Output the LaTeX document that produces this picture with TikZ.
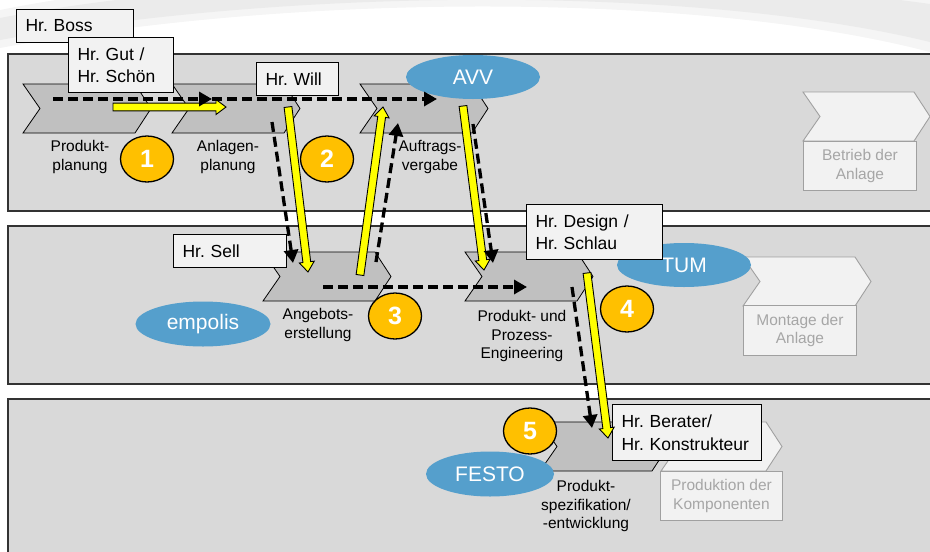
\documentclass[tikz,border=0pt]{standalone}
\usepackage{fontspec}
\setmainfont{Liberation Sans}
\usetikzlibrary{arrows.meta,calc,shapes.geometric}
\definecolor{bandfill}{HTML}{D9D9D9}
\definecolor{chevfill}{HTML}{C0C0C0}
\definecolor{boxfill}{HTML}{F2F2F2}
\definecolor{blueell}{HTML}{559FCC}
\definecolor{orangec}{HTML}{FFC000}
\definecolor{grayline}{HTML}{A0A0A0}
\definecolor{graytext}{HTML}{A6A6A6}
\definecolor{yel}{HTML}{FFFF00}
\tikzset{
 band/.style={fill=bandfill, draw=black!80, line width=1.2pt},
 chev/.style={fill=chevfill, draw=black, line width=0.8pt, line join=miter},
 gchev/.style={fill=boxfill, draw=grayline, line width=0.9pt},
 gbox/.style={rectangle, fill=boxfill, draw=grayline, line width=0.9pt, inner sep=0pt, align=center, anchor=north west, font=\fontsize{15.5}{18.5}\selectfont, text=graytext},
 tbox/.style={rectangle, fill=boxfill, draw=black, line width=1pt, inner xsep=9pt, inner ysep=0pt, align=left, anchor=north west, font=\fontsize{17.5}{22.5}\selectfont},
 lbl/.style={align=center, font=\fontsize{15.5}{18.5}\selectfont, inner sep=0pt},
 org/.style={ellipse, fill=blueell, inner sep=0pt, text=white, font=\fontsize{21}{24}\selectfont},
 num/.style={ellipse, fill=orangec, draw=black, line width=1.3pt, inner sep=0pt, minimum width=53pt, minimum height=46pt, text=white, font=\fontsize{25}{28}\selectfont\bfseries},
 flow/.style={draw=black, line width=3.3pt, dash pattern=on 10pt off 5pt, -{Triangle[length=13pt,width=14pt]}},
 yarrow/.style={fill=yel, draw=black, line width=0.9pt, line join=miter},
}
\newcommand\chevron[4]{\draw[#1] (#2,#3) -- ++(#4-16,0) -- ++(16,24.5) -- ++(-16,24.5) -- ++(-#4+16,0) -- ++(17,-24.5) -- cycle;}
\newcommand\yarr[3]{%
 \coordinate (#3) at ($(#2)!10pt!(#1)$);
 \draw[yarrow] ($(#1)!3.9pt!90:(#2)$) -- ($(#3)!3.9pt!90:(#2)$) -- ($(#3)!7.5pt!90:(#2)$) -- (#2) -- ($(#3)!7.5pt!-90:(#2)$) -- ($(#3)!3.9pt!-90:(#2)$) -- ($(#1)!3.9pt!-90:(#2)$) -- cycle;}
\frenchspacing
\begin{document}
\frenchspacing
\begin{tikzpicture}[x=1pt,y=-1pt]
\useasboundingbox (0,0) rectangle (930,552);
\clip (0,0) rectangle (930,552);
% decorative swoosh
\fill[black!4] (0,10) .. controls (250,-40) and (650,-45) .. (930,-4) -- (930,52) .. controls (700,-8) and (300,-8) .. (0,48) -- cycle;
\fill[black!8] (0,18) .. controls (250,-30) and (650,-35) .. (930,4) -- (930,42) .. controls (700,-14) and (300,-14) .. (0,40) -- cycle;
% bands
\draw[band] (8,54) rectangle (940,211);
\draw[band] (8,226) rectangle (940,384);
\draw[band] (8,399) rectangle (940,570);
% process chevrons
\chevron{chev}{23}{84}{128}
\chevron{chev}{172}{84}{128}
\chevron{chev}{360}{84}{128}
\chevron{chev}{263}{252}{128}
\chevron{chev}{465}{252}{128}
\chevron{chev}{540}{422}{128}
% grey (future) chevrons
\chevron{gchev}{803}{92}{127}
\chevron{gchev}{743}{257}{128}
\chevron{gchev}{661}{422}{121}
\node[gbox, minimum width=113pt, minimum height=49pt] (betrieb) at (803,141) {Betrieb der\\Anlage};
\node[gbox, minimum width=113pt, minimum height=50pt] (montage) at (743,305) {Montage der\\Anlage};
\node[gbox, minimum width=122pt, minimum height=49pt] (produktion) at (660,471) {Produktion der\\Komponenten};
% labels
\node[lbl] (l1) at (80,157) {Produkt-\\planung};
\node[lbl] (l2) at (228,157) {Anlagen-\\planung};
\node[lbl] (l3) at (430,157) {Auftrags-\\vergabe};
\node[lbl] (l4) at (318,325) {Angebots-\\erstellung};
\node[lbl] (l5) at (522,336) {Produkt- und\\Prozess-\\Engineering};
\node[lbl] (l6) at (586,506) {Produkt-\\spezifikation/\\-entwicklung};
% organisations
\node[org, minimum width=134pt, minimum height=44pt] (avv) at (473,77) {AVV};
\node[org, minimum width=135pt, minimum height=45pt] (empolis) at (203,324) {empolis};
\node[org, minimum width=134pt, minimum height=44pt] (tum) at (684,265) {TUM};
\node[org, minimum width=128pt, minimum height=45pt] (festo) at (490,474) {FESTO};
% numbers
\node[num] (n1) at (147,159) {1};
\node[num] (n2) at (327,159) {2};
\node[num] (n3) at (395,316) {3};
\node[num] (n4) at (627,309) {4};
\node[num] (n5) at (530,431) {5};
% persons
\node[tbox, text width=99pt, minimum height=33pt] (boss) at (16,9) {Hr. Boss};
\node[tbox, text width=87pt, minimum height=55pt] (gut) at (68,37) {Hr. Gut /\\Hr. Schön};
\node[tbox, text width=64pt, minimum height=33pt] (will) at (256,62) {Hr. Will};
\node[tbox, text width=95pt, minimum height=33pt] (sell) at (173,234) {Hr. Sell};
\node[tbox, text width=118pt, minimum height=55pt] (design) at (526,204) {Hr. Design /\\Hr. Schlau};
\node[tbox, text width=131pt, minimum height=56pt] (berater) at (612,404) {Hr. Berater/\\Hr. Konstrukteur};
% arrow end points
\coordinate (y1s) at (113,107); \coordinate (y1e) at (226,107);
\coordinate (y2s) at (288,107); \coordinate (y2e) at (308,272);
\coordinate (y3s) at (360,275); \coordinate (y3e) at (383,107);
\coordinate (y4s) at (463,106); \coordinate (y4e) at (484,270);
\coordinate (y5s) at (587,273); \coordinate (y5e) at (608,438);
\coordinate (f1a) at (53,99); \coordinate (f1b) at (212,99); \coordinate (f1c) at (437,99);
\coordinate (f2a) at (272,122); \coordinate (f2b) at (293,263);
\coordinate (f3a) at (376,262); \coordinate (f3b) at (398,123);
\coordinate (f4a) at (323,287); \coordinate (f4b) at (527,287);
\coordinate (f5a) at (473,124); \coordinate (f5b) at (493,263);
\coordinate (f6a) at (572,287); \coordinate (f6b) at (592,428);
% yellow arrows
\yarr{y1s}{y1e}{y1h}
\yarr{y2s}{y2e}{y2h}
\yarr{y3s}{y3e}{y3h}
\yarr{y4s}{y4e}{y4h}
\yarr{y5s}{y5e}{y5h}
% dashed flow arrows
\draw[flow] (f1a) -- (f1b);
\draw[flow] (f1b) -- (f1c);
\draw[flow] (f2a) -- (f2b);
\draw[flow] (f3a) -- (f3b);
\draw[flow] (f4a) -- (f4b);
\draw[flow] (f5a) -- (f5b);
\draw[flow] (f6a) -- (f6b);
\end{tikzpicture}
\end{document}
